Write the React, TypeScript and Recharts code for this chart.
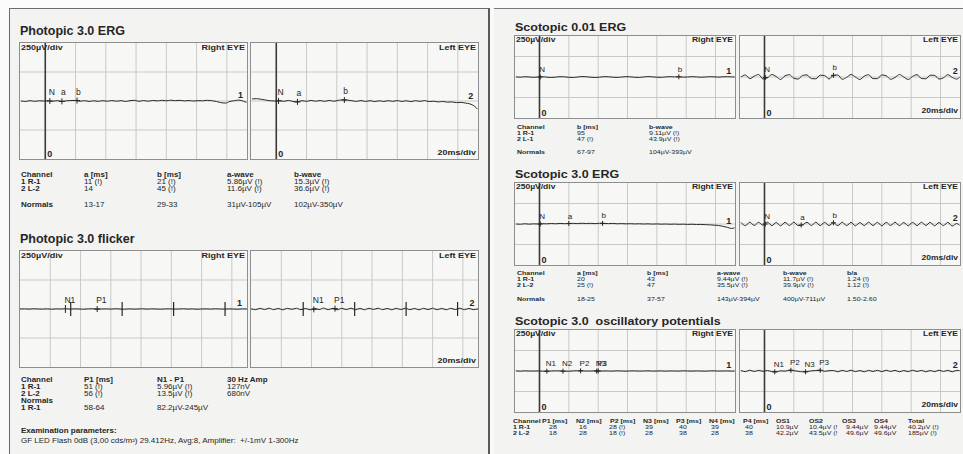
import React from 'react'
import { ComposedChart, Line, ReferenceLine, Scatter, XAxis, YAxis } from 'recharts'

// time base in ms (20 ms / div)
const ergTime = [-16, -13, -10, -7, -4, -1, 2, 5, 8, 11, 14, 17, 20, 23, 26, 29, 32, 35, 38, 41, 44, 47, 50, 53, 56, 59, 62, 65, 68, 71, 74, 77, 80, 83, 86, 89, 92, 95, 98, 101, 104, 107, 110, 113, 116, 119, 122, 125, 128, 131, 133]
const flickerTime = [0, 3, 6, 9, 12, 15, 18, 21, 24, 27, 30, 33, 36, 39, 42, 45, 48, 51, 54, 57, 60, 63, 66, 69, 72, 75, 78, 81, 84, 87, 90, 93, 96, 99, 102, 105, 108, 111, 114, 117, 120, 123, 126, 129, 132, 135, 138, 141, 144, 147, 150]

// traces in µV (250 µV / div)
const photopicErgRight = [0, -4, 3, -3, 2, 0, 2, -2, 3, -4, 2, 4, 5, -2, 3, -4, 2, -3, 3, -2, 4, -2, 3, -4, 3, 6, -3, 4, -2, 5, 1, 6, 2, 7, 3, 6, 1, 4, 0, 3, 2, 6, 3, -4, -14, -18, -4, 3, 8, -2, -12]
const photopicErgLeft = [18, 20, 15, 8, 2, 0, 4, -3, 5, -4, -8, 3, -3, 5, -2, 4, -3, 5, -2, 6, 10, 8, 2, -3, 4, -4, 3, -5, 2, -4, 3, -3, 4, -4, 2, -5, 3, -3, 4, -5, -2, -8, -4, -10, -8, -14, -12, -18, -25, -45, -70]
const flickerRight = [0, 1, -1, 2, 0, -1, 1, -2, 1, 0, 2, -1, 1, 0, -2, 1, 2, -1, 0, 1, -1, 2, 0, -2, 1, -1, 0, 2, -1, 1, 0, -2, 1, 1, -1, 0, 2, -1, 1, -2, 0, 1, -1, 2, 0, -1, 1, 0, -2, 1, 0]
const flickerLeft = [2, -6, 6, -5, 7, -6, 5, -7, 6, -3, 7, -6, 5, -7, 6, -5, 8, -6, 5, -7, 6, -5, 7, -6, 5, -7, 6, -4, 7, -6, 5, -7, 6, -5, 7, -6, 5, -7, 6, -5, 7, -6, 5, -7, 6, -5, 7, -6, 5, -6, 2]
const scot001Right = [2, -3, 4, 0, -4, 0, 3, -2, -6, -2, 4, 2, -4, -6, 0, 5, 3, -3, -6, -2, 4, 3, -3, -5, 0, 4, 2, -4, -5, 0, 5, 2, -3, -4, 1, 4, 1, 3, -2, 0, 4, 1, -3, 0, 4, 2, -2, 2, 4, 1, 0]
const scot001Left = [0, 25, -20, 10, 30, -25, -10, 30, 5, -30, 15, 28, -15, -25, 20, 25, -20, -22, 22, 18, -25, 20, 25, -28, -5, 30, 0, -30, 10, 28, -20, -20, 25, 15, -28, -5, 30, 0, -30, 8, 28, -18, -22, 22, 20, -25, -10, 28, -5, -25, -5]
const scot3Right = [0, -3, 3, -2, 2, 0, 4, 2, 6, 3, 7, 4, 6, 8, 5, 9, 6, 8, 5, 9, 7, 5, 7, 3, 5, 2, 4, 1, 3, 0, 2, -1, 1, -2, 0, -3, -1, -4, -2, -5, -3, -6, -5, -8, -10, -14, -18, -28, -40, -55, -45]
const scot3Left = [20, -20, 22, -18, 20, -15, 22, -20, 18, -22, 20, -18, 22, -20, -10, 20, -18, 22, -20, 20, -18, 15, -20, 22, -20, 20, -22, 18, -20, 22, -18, 20, -22, 20, -18, 22, -20, 18, -22, 20, -20, 22, -18, 20, -22, 18, -20, 20, -25, 5, -15]
const opRight = [1, -2, 2, 0, -1, 1, -2, -3, 0, 2, 1, -2, -3, 1, 3, 2, -1, 0, 2, -2, 1, 0, -1, 2, 0, -2, 1, 1, -1, 0, 2, -1, 0, 1, -2, 1, 0, -1, 2, 0, -1, 1, 0, -2, 1, 2, -1, 0, 1, -1, 0]
const opLeft = [5, -8, 10, -6, 8, -4, 6, -8, -12, 2, -2, 10, 4, -4, -10, -8, 2, 6, 9, -4, 4, 6, -10, 8, -6, 10, -8, 6, -10, 8, -6, 9, -8, 10, -6, 8, -10, 6, -8, 10, -6, 8, -10, 6, -8, 10, -6, 8, -10, 8, 5]

type Mark = { t: number; v: number; label?: string; kind: 'cross' | 'tick' | 'tall' | 'end' }

const photopicErgRightMarks: Mark[] = [
  { t: 3, v: 0, label: 'N', kind: 'cross' },
  { t: 11, v: -3, label: 'a', kind: 'cross' },
  { t: 21, v: 4, label: 'b', kind: 'cross' },
  { t: 129, v: 0, label: '1', kind: 'end' },
]
const photopicErgLeftMarks: Mark[] = [
  { t: 1.5, v: 0, label: 'N', kind: 'cross' },
  { t: 14, v: -8, label: 'a', kind: 'cross' },
  { t: 45, v: 9, label: 'b', kind: 'cross' },
  { t: 128.5, v: -10, label: '2', kind: 'end' },
]
const flickerRightMarks: Mark[] = [
  { t: 30, v: 0, label: 'N1', kind: 'tick' },
  { t: 33.5, v: 0, kind: 'tall' },
  { t: 51, v: 0, label: 'P1', kind: 'cross' },
  { t: 67.5, v: 0, kind: 'tall' },
  { t: 101.5, v: 0, kind: 'tall' },
  { t: 135.5, v: 0, kind: 'tall' },
  { t: 145, v: 0, label: '1', kind: 'end' },
]
const flickerLeftMarks: Mark[] = [
  { t: 34.5, v: 0, kind: 'tall' },
  { t: 41.5, v: -3, label: 'N1', kind: 'cross' },
  { t: 55.5, v: 3, label: 'P1', kind: 'cross' },
  { t: 68.5, v: 0, kind: 'tall' },
  { t: 102.5, v: 0, kind: 'tall' },
  { t: 136.5, v: 0, kind: 'tall' },
  { t: 146, v: 0, label: '2', kind: 'end' },
]
const scot001RightMarks: Mark[] = [
  { t: 0.5, v: 0, label: 'N', kind: 'cross' },
  { t: 95, v: 3, label: 'b', kind: 'cross' },
  { t: 129, v: 0, label: '1', kind: 'end' },
]
const scot001LeftMarks: Mark[] = [
  { t: 0.5, v: -5, label: 'N', kind: 'cross' },
  { t: 47, v: 20, label: 'b', kind: 'cross' },
  { t: 130, v: 5, label: '2', kind: 'end' },
]
const scot3RightMarks: Mark[] = [
  { t: 0.5, v: 0, label: 'N', kind: 'cross' },
  { t: 20, v: 6, label: 'a', kind: 'cross' },
  { t: 43, v: 8, label: 'b', kind: 'cross' },
  { t: 129, v: -35, label: '1', kind: 'end' },
]
const scot3LeftMarks: Mark[] = [
  { t: 0.5, v: 0, label: 'N', kind: 'cross' },
  { t: 25, v: -12, label: 'a', kind: 'cross' },
  { t: 47, v: 15, label: 'b', kind: 'cross' },
  { t: 130, v: -5, label: '2', kind: 'end' },
]
const opRightMarks: Mark[] = [
  { t: 5, v: -2, label: 'N1', kind: 'cross' },
  { t: 16, v: -2, label: 'N2', kind: 'cross' },
  { t: 28, v: 2, label: 'P2', kind: 'cross' },
  { t: 39, v: -2, label: 'N3', kind: 'cross' },
  { t: 40, v: 2, label: 'P3', kind: 'cross' },
  { t: 129, v: 0, label: '1', kind: 'end' },
]
const opLeftMarks: Mark[] = [
  { t: 7, v: -10, label: 'N1', kind: 'cross' },
  { t: 18, v: 9, label: 'P2', kind: 'cross' },
  { t: 28, v: -10, label: 'N3', kind: 'cross' },
  { t: 38, v: 9, label: 'P3', kind: 'cross' },
  { t: 130, v: 5, label: '2', kind: 'end' },
]

// grid divisions: 20 ms, 250 µV
const ergGridTicks = [20, 40, 60, 80, 100, 120]
const flickerGridTicks = [20, 40, 60, 80, 100, 120, 140]
const ampGridTicks = [-250, 0, 250]

// result tables
const ergColumns = ['Channel', 'a [ms]', 'b [ms]', 'a-wave', 'b-wave']
const ergRow1 = ['1 R-1', '11 (!)', '21 (!)', '5.86µV (!)', '15.3µV (!)']
const ergRow2 = ['2 L-2', '14', '45 (!)', '11.6µV (!)', '36.6µV (!)']
const ergNormals = ['Normals', '13-17', '29-33', '31µV-105µV', '102µV-350µV']

const flickerColumns = ['Channel', 'P1 [ms]', 'N1 - P1', '30 Hz Amp']
const flickerRow1 = ['1 R-1', '51 (!)', '5.96µV (!)', '127nV']
const flickerRow2 = ['2 L-2', '56 (!)', '13.5µV (!)', '680nV']
const flickerNormals = ['1 R-1', '58-64', '82.2µV-245µV']

const scot001Columns = ['Channel', 'b [ms]', 'b-wave']
const scot001Row1 = ['1 R-1', '95', '9.11µV (!)']
const scot001Row2 = ['2 L-1', '47 (!)', '43.9µV (!)']
const scot001Normals = ['Normals', '67-97', '104µV-393µV']

const scot3Columns = ['Channel', 'a [ms]', 'b [ms]', 'a-wave', 'b-wave', 'b/a']
const scot3Row1 = ['1 R-1', '20', '43', '9.44µV (!)', '11.7µV (!)', '1.24 (!)']
const scot3Row2 = ['2 L-2', '25 (!)', '47', '35.5µV (!)', '39.9µV (!)', '1.12 (!)']
const scot3Normals = ['Normals', '18-25', '37-57', '143µV-394µV', '400µV-711µV', '1.50-2.60']

const opColumns = ['Channel', 'P1 [ms]', 'N2 [ms]', 'P2 [ms]', 'N3 [ms]', 'P3 [ms]', 'N4 [ms]', 'P4 [ms]', 'OS1', 'OS2', 'OS3', 'OS4', 'Total']
const opRow1 = ['1 R-1', '28', '16', '28 (!)', '39', '40', '39', '40', '10.9µV', '10.4µV (!', '9.44µV', '9.44µV', '40.2µV (!)']
const opRow2 = ['2 L-2', '18', '28', '18 (!)', '28', '38', '28', '38', '42.2µV', '43.5µV (!', '49.6µV', '49.6µV', '185µV (!)']

const FONT = "'Liberation Sans', Arial, Helvetica, sans-serif"
const INK = '#262626'
const GRID = '#c9c9c9'

const markShape = (small: boolean) => (props: any) => {
  const { cx, cy, payload } = props
  const arm = small ? 2.5 : 3
  const fs = small ? 8 : 8.5
  const k = payload.kind
  if (k === 'end') {
    return (
      <text x={cx} y={cy - 3} textAnchor="middle" fontSize={9} fontWeight={700} fill={INK} fontFamily={FONT}>
        {payload.label}
      </text>
    )
  }
  const h = k === 'tall' ? (small ? 5 : 7) : k === 'tick' ? (small ? 3 : 4) : arm
  return (
    <g>
      <line x1={cx} y1={cy - h} x2={cx} y2={cy + h} stroke={INK} strokeWidth={k === 'tall' ? 1.2 : 1} />
      {k === 'cross' && <line x1={cx - arm} y1={cy} x2={cx + arm} y2={cy} stroke={INK} strokeWidth={1} />}
      {payload.label && (
        <text x={cx - 1} y={cy - (small ? 5 : 6)} fontSize={fs} fill={INK} fontFamily={FONT}>
          {payload.label}
        </text>
      )}
    </g>
  )
}

interface PanelProps {
  left: number
  top: number
  width: number
  height: number
  time: number[]
  values: number[]
  marks: Mark[]
  domain: [number, number]
  gridTicks: number[]
  zero?: boolean
  small?: boolean
}

const Panel = ({ left, top, width, height, time, values, marks, domain, gridTicks, zero, small }: PanelProps) => {
  const data = time.map((t, i) => ({ t, v: values[i] }))
  return (
    <div style={{ position: 'absolute', left, top, border: '1px solid #8e8e8e', width, height, background: '#f7f7f5' }}>
      <ComposedChart width={width} height={height} data={data} margin={{ top: 0, right: 0, bottom: 0, left: 0 }}>
        <XAxis dataKey="t" type="number" domain={domain} ticks={gridTicks} allowDataOverflow hide />
        <YAxis type="number" domain={[-500, 500]} ticks={ampGridTicks} allowDataOverflow hide />
        {gridTicks.map((t) => (
          <ReferenceLine key={`x${t}`} x={t} stroke={GRID} strokeWidth={1} />
        ))}
        {ampGridTicks.map((a) => (
          <ReferenceLine key={`y${a}`} y={a} stroke={GRID} strokeWidth={1} />
        ))}
        {zero && (
          <ReferenceLine
            x={0}
            stroke="#3a3a3a"
            strokeWidth={1.6}
            label={{ value: '0', position: 'insideBottomLeft', offset: 2, fontSize: 9, fontWeight: 700, fill: INK, fontFamily: FONT }}
          />
        )}
        <Line dataKey="v" type="monotone" stroke="#2b2b2b" strokeWidth={1} dot={false} isAnimationActive={false} />
        <Scatter data={marks} dataKey="v" shape={markShape(!!small)} isAnimationActive={false} />
      </ComposedChart>
    </div>
  )
}

const Txt = ({ x, y, size, bold, right, sy = 1, children }: { x: number; y: number; size: number; bold?: boolean; right?: boolean; sy?: number; children: React.ReactNode }) => (
  <div
    style={{
      position: 'absolute',
      left: x,
      top: y,
      fontSize: size,
      fontWeight: bold ? 700 : 400,
      lineHeight: 1,
      whiteSpace: 'pre',
      color: INK,
      transform: `translate(${right ? '-100%' : '0'}, -50%) scaleY(${sy})`,
    }}
  >
    {children}
  </div>
)

const Row = ({ xs, y, cells, size, sy, boldAll, boldFirst }: { xs: number[]; y: number; cells: string[]; size: number; sy: number; boldAll?: boolean; boldFirst?: boolean }) => (
  <>
    {cells.map((c, i) => (
      <Txt key={i} x={xs[i]} y={y} size={size} sy={sy} bold={boldAll || (boldFirst && i === 0)}>
        {c}
      </Txt>
    ))}
  </>
)

const PanelLabels = ({ rx, lx, w, top, h, size, sy }: { rx: number; lx: number; w: number; top: number; h: number; size: number; sy: number }) => (
  <>
    <Txt x={rx + 2} y={top + 6} size={size} sy={sy} bold>250µV/div</Txt>
    <Txt x={rx + w - 1} y={top + 6} size={size} sy={sy} bold right>Right EYE</Txt>
    <Txt x={lx + w - 1} y={top + 6} size={size} sy={sy} bold right>Left EYE</Txt>
    <Txt x={lx + w - 1} y={top + h - 5} size={size} sy={sy} bold right>20ms/div</Txt>
  </>
)

const ERG_DOMAIN: [number, number] = [-16.7, 133.3]
const FLICKER_DOMAIN: [number, number] = [0, 150]

const App = () => {
  const lw = 227
  const lh = 116
  const rw = 220
  const rh = 82
  return (
    <div style={{ position: 'absolute', left: 0, top: 0, width: 963, height: 454, overflow: 'hidden', background: '#fafafa', fontFamily: FONT }}>
      {/* left sheet */}
      <div style={{ position: 'absolute', left: 9, top: 8, width: 478, height: 460, background: '#f3f3f1', borderLeft: '1.5px solid #6a6a6a', borderTop: '1.5px solid #6a6a6a', borderRight: '2px solid #5a5a5a' }} />
      {/* right sheet */}
      <div style={{ position: 'absolute', left: 494, top: 8, width: 469, height: 460, background: '#f3f3f1', borderTop: '1px solid #7a7a7a' }} />

      <Txt x={20} y={31} size={12.5} bold>Photopic 3.0 ERG</Txt>
      <Panel left={19} top={42} width={lw} height={lh} time={ergTime} values={photopicErgRight} marks={photopicErgRightMarks} domain={ERG_DOMAIN} gridTicks={ergGridTicks} zero />
      <Panel left={250} top={42} width={lw} height={lh} time={ergTime} values={photopicErgLeft} marks={photopicErgLeftMarks} domain={ERG_DOMAIN} gridTicks={ergGridTicks} zero />
      <PanelLabels rx={19} lx={250} w={lw} top={42} h={lh} size={9} sy={0.8} />
      <Row xs={[21, 84, 157, 227, 294]} y={175} cells={ergColumns} size={8} sy={0.8} boldAll />
      <Row xs={[21, 84, 157, 227, 294]} y={182} cells={ergRow1} size={8} sy={0.8} boldFirst />
      <Row xs={[21, 84, 157, 227, 294]} y={189} cells={ergRow2} size={8} sy={0.8} boldFirst />
      <Row xs={[21, 84, 157, 227, 294]} y={205} cells={ergNormals} size={8} sy={0.8} boldFirst />

      <Txt x={20} y={239} size={12.5} bold>Photopic 3.0 flicker</Txt>
      <Panel left={19} top={250} width={lw} height={lh} time={flickerTime} values={flickerRight} marks={flickerRightMarks} domain={FLICKER_DOMAIN} gridTicks={flickerGridTicks} />
      <Panel left={250} top={250} width={lw} height={lh} time={flickerTime} values={flickerLeft} marks={flickerLeftMarks} domain={FLICKER_DOMAIN} gridTicks={flickerGridTicks} />
      <PanelLabels rx={19} lx={250} w={lw} top={250} h={lh} size={9} sy={0.8} />
      <Row xs={[21, 84, 157, 227]} y={380} cells={flickerColumns} size={8} sy={0.8} boldAll />
      <Row xs={[21, 84, 157, 227]} y={387} cells={flickerRow1} size={8} sy={0.8} boldFirst />
      <Row xs={[21, 84, 157, 227]} y={394} cells={flickerRow2} size={8} sy={0.8} boldFirst />
      <Txt x={21} y={401} size={8} sy={0.8} bold>Normals</Txt>
      <Row xs={[21, 84, 157]} y={408} cells={flickerNormals} size={8} sy={0.8} boldFirst />
      <Txt x={21} y={431} size={8} sy={0.85} bold>Examination parameters:</Txt>
      <Txt x={21} y={441} size={8} sy={0.85}>GF LED Flash 0dB (3,00 cds/m²) 29.412Hz, Avg:8, Amplifier:  +/-1mV 1-300Hz</Txt>

      <Txt x={515} y={28} size={12.5} sy={0.8} bold>Scotopic 0.01 ERG</Txt>
      <Panel left={514} top={35} width={rw} height={rh} time={ergTime} values={scot001Right} marks={scot001RightMarks} domain={ERG_DOMAIN} gridTicks={ergGridTicks} zero small />
      <Panel left={739} top={35} width={rw} height={rh} time={ergTime} values={scot001Left} marks={scot001LeftMarks} domain={ERG_DOMAIN} gridTicks={ergGridTicks} zero small />
      <PanelLabels rx={514} lx={739} w={rw} top={34} h={rh} size={8.5} sy={0.75} />
      <Row xs={[517, 577, 649]} y={127} cells={scot001Columns} size={7} sy={0.8} boldAll />
      <Row xs={[517, 577, 649]} y={133} cells={scot001Row1} size={7} sy={0.8} boldFirst />
      <Row xs={[517, 577, 649]} y={139} cells={scot001Row2} size={7} sy={0.8} boldFirst />
      <Row xs={[517, 577, 649]} y={152} cells={scot001Normals} size={7} sy={0.8} boldFirst />

      <Txt x={515} y={175} size={12.5} sy={0.8} bold>Scotopic 3.0 ERG</Txt>
      <Panel left={514} top={182} width={rw} height={rh} time={ergTime} values={scot3Right} marks={scot3RightMarks} domain={ERG_DOMAIN} gridTicks={ergGridTicks} zero small />
      <Panel left={739} top={182} width={rw} height={rh} time={ergTime} values={scot3Left} marks={scot3LeftMarks} domain={ERG_DOMAIN} gridTicks={ergGridTicks} zero small />
      <PanelLabels rx={514} lx={739} w={rw} top={181} h={rh} size={8.5} sy={0.75} />
      <Row xs={[517, 577, 647, 717, 783, 847]} y={273} cells={scot3Columns} size={7} sy={0.8} boldAll />
      <Row xs={[517, 577, 647, 717, 783, 847]} y={279} cells={scot3Row1} size={7} sy={0.8} boldFirst />
      <Row xs={[517, 577, 647, 717, 783, 847]} y={285} cells={scot3Row2} size={7} sy={0.8} boldFirst />
      <Row xs={[517, 577, 647, 717, 783, 847]} y={299} cells={scot3Normals} size={7} sy={0.8} boldFirst />

      <Txt x={515} y={322} size={12.5} sy={0.8} bold>Scotopic 3.0  oscillatory potentials</Txt>
      <Panel left={514} top={329} width={rw} height={rh} time={ergTime} values={opRight} marks={opRightMarks} domain={ERG_DOMAIN} gridTicks={ergGridTicks} zero small />
      <Panel left={739} top={329} width={rw} height={rh} time={ergTime} values={opLeft} marks={opLeftMarks} domain={ERG_DOMAIN} gridTicks={ergGridTicks} zero small />
      <PanelLabels rx={514} lx={739} w={rw} top={328} h={rh} size={8.5} sy={0.75} />
      <Row xs={[513, 542, 576, 610, 643, 676, 709, 743, 776, 809, 842, 874, 908]} y={421} cells={opColumns} size={7} sy={0.8} boldAll />
      <Row xs={[513, 549, 579, 609, 645, 679, 711, 745, 776, 809, 846, 874, 908]} y={427} cells={opRow1} size={7} sy={0.8} boldFirst />
      <Row xs={[513, 549, 579, 609, 645, 679, 711, 745, 776, 809, 846, 874, 908]} y={433} cells={opRow2} size={7} sy={0.8} boldFirst />
    </div>
  )
}

export default App
